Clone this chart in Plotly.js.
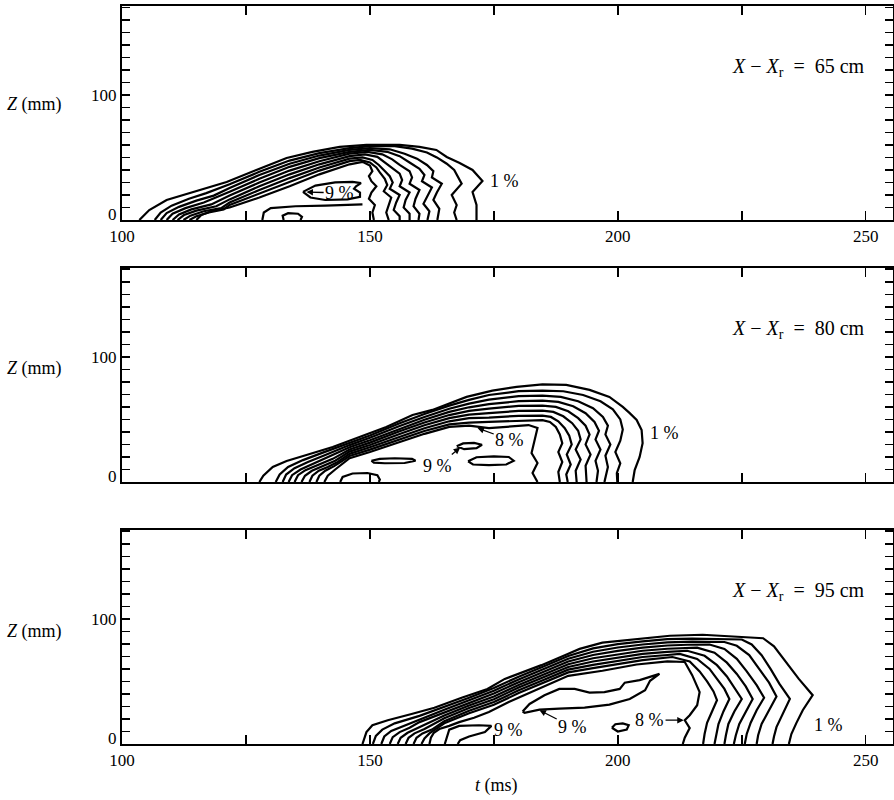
<!DOCTYPE html>
<html>
<head>
<meta charset="utf-8">
<script src="https://cdn.plot.ly/plotly-3.0.1.min.js"></script>
<style>html,body{margin:0;padding:0;background:#fff;}#chart{width:894px;height:800px;}</style>
</head>
<body>
<div id="chart"></div>
<script>
// ---------- Tick values / labels ----------
const tTicks = [100, 125, 150, 175, 200, 225, 250];
const tTickText = ['100', ' ', '150', ' ', '200', ' ', '250'];
const zTicks = [0,10,20,30,40,50,60,70,80,90,100,110,120,130,140,150,160,170];
const zTickText = [' ',' ',' ',' ',' ',' ',' ',' ',' ',' ','100',' ',' ',' ',' ',' ',' ',' '];
const zZeroLabel = '0';
const stationLabels = ['65', '80', '95'];

// ---------- Panel 1 : X - Xr = 65 cm (t in ms, Z in mm) ----------
const p65_a1_t = [103.5,105.5,109.0,113.6,121.1,127.1,133.2,138.4,143.9,149.3,156.0,160.0,163.4,165.5,168.1,170.7,172.7,170.7,171.5,171.5];
const p65_a1_z = [0,8,16,21.6,30.4,40,49.6,54.4,58.4,60,60,58.4,56,50.4,45.6,40,31.2,22.4,12,0];
const p65_a2_t = [106.6,107.8,110,113.5,117,121.7,127.7,133.8,139.8,145.9,150,155,158.5,161.5,163.5,165.5,167,167.5,168.5,166.5,167.5,167,167.5];
const p65_a2_z = [0,6,11.5,17,21.5,28.5,38.5,47.5,53.5,57.5,59,59,57,54,50,45,40,36,29,20,12,6,0];
const p65_a3_t = [107.8,109,111.5,115,118.5,121.7,127.7,133.8,139.8,145.9,150,154,157,159.5,161.5,162.8,162.5,164.5,163.5,162.8,164,163.6];
const p65_a3_z = [0,5.5,10.5,15.5,19.5,25.5,36,45,51.5,56,57.5,56.5,53,49,44,39,34,29,22,16,9,0];
const p65_a4_t = [109,110.2,112.8,116.5,121.7,127.7,133.8,139.8,145.9,150,153.5,156,158,160,161,160.5,162.5,161.5,160.8,162,161.6];
const p65_a4_z = [0,5,9.5,14,22.5,33,42.5,49.5,54.5,56,54.5,51,46,41,36,31,26,19,13,7,0];
const p65_a5_t = [110.2,111.5,114,118,121.7,127.7,133.8,139.8,145.9,149.5,152.5,154.5,156,158,158.5,158,160,159.2,158.8,160,159.8];
const p65_a5_z = [0,4.5,8.5,12.5,19.5,30,39.5,47,53,54.5,52.5,48.5,44,39,34,29,24,17,11,5,0];
const p65_a6_t = [111.2,112.5,115,119,121.7,127.7,133.8,139.8,145.9,149,151.5,153,154.5,156,156.5,156,158,157.2,156.8,158,158];
const p65_a6_z = [0,4,7.5,11,16.5,27,36.5,44.5,51,52.5,50.5,46,41.5,37,32,27,22,16,10,5,0];
const p65_a7_t = [112.4,113.8,116.5,120,121.7,127.7,133.8,139.8,145.9,148.5,150.5,151.8,152.8,154,154.6,154,156,155.3,154.8,156,156];
const p65_a7_z = [0,3.5,7,9.5,14,24,33.5,42,49,50,48,44,40,35,30,25,20,14,8,3,0];
const p65_a8_t = [113.6,115,117.5,120.5,121.7,127.7,133.8,139.8,145.9,148,150,151.3,152,153,153.5,152.8,154.3,153.8,153.3,153.8];
const p65_a8_z = [0,3,6,8.5,12,21,30.5,39.5,47,48,46,42,38,33,28,23,18,12,6,0];
const p65_a9_t = [115,116,118,121.7,127.7,133.8,139.8,145.9,148.5,150,150.5,149.8,150.3,151.3,150.3,149.8,151,150.5,150.8];
const p65_a9_z = [0,4,7,10,18,27,36.5,44.5,46.5,43.5,39,35,31,27,22,17,12,6,0];
const p65_loop9_t = [136.5,139,143,146.5,148.2,147.2,146.8,148,148,145.5,141,138,136.5];
const p65_loop9_z = [22.5,27.5,30,30.5,29.5,27,25,22,18.5,16.5,16,18,22.5];
const p65_low_t = [128.3,128.6,130,135,141,146,148.5];
const p65_low_z = [0,6,9.5,11,11.5,12,12.5];
const p65_bump_t = [132.6,132.4,133.5,135.5,136.3,136];
const p65_bump_z = [0,3.5,5.5,5,2.5,0];

// ---------- Panel 2 : X - Xr = 80 cm ----------
const p80_a1_t = [127.7,128.5,130.4,133.2,137.2,142.5,147.9,153.3,158.6,162.6,169.5,174.7,179.6,184.8,189.6,194.3,198.3,201,202.4,203.8,204.8,205,204.4,203.4,203];
const p80_a1_z = [0,5,12,16.8,21.6,28,36,44,53.6,57.6,68,73,76,78,77.6,73.6,68,60,55,49.6,41.6,31,20,9.6,0];
const p80_a2_t = [131,131.8,133.5,136.5,140.5,145.9,150,156,161,166,170,174,180,184.8,189,193,196.5,199,200.5,201,200.5,199.5,200.5,199.8,199.9];
const p80_a2_z = [0,6,12,17.5,23.5,31.3,37.1,46.9,54.3,61,65.6,69.5,72.6,73,72.5,69.5,64.5,58,50,42,33,24,15,7,0];
const p80_a3_t = [132.4,133.1,134.8,137.5,141,145.9,150,156,161,166,170,174,180,184.8,188.5,192,195,197,198,197.5,198.5,197.5,198,197.3];
const p80_a3_z = [0,6,11,16,21.5,29.5,35.3,44.8,52,58.5,62.6,65.8,68.6,69,68,64.5,59,52,45,38,30,21,12,0];
const p80_a4_t = [133.6,134.3,136,138.5,141.5,145.9,150,156,161,166,170,174,180,184.8,188,191,193.5,195.3,196.2,195.5,196.5,195.5,196,195.7];
const p80_a4_z = [0,5.5,10,14.5,19.5,27.8,33.4,42.6,49.8,56,59.7,62.2,64.6,65,64,60.5,55,48,41,34,26,17,9,0];
const p80_a5_t = [134.8,135.5,137,139.5,142.5,145.9,150,156,161,166,170,174,180,184.8,187.5,190,192,193.5,194.3,193.5,194.5,193.5,193.7];
const p80_a5_z = [0,5.5,9.5,13.5,18.5,26,31.5,40.5,47.5,53.5,56.8,58.6,60.8,61,60,56.5,51,45,38,30,22,13,0];
const p80_a6_t = [136.2,136.9,138.3,140.5,143,145.9,150,156,161,166,170,174,180,184.8,187,189,190.8,192,192.5,191.5,192.5,191.5,191.7];
const p80_a6_z = [0,5,9,12.5,17,24.3,29.6,38.4,45.3,51,53.9,55,56.8,57,56,52.5,47,41,34,26,18,9,0];
const p80_a7_t = [137.8,138.4,139.7,141.5,143.5,145.9,150,156,161,166,170,174,180,184.8,186.5,188,189.3,190.2,190.7,189.7,190.5,189.6,189.9];
const p80_a7_z = [0,5,9,12,16,22.5,27.8,36.3,43,48.5,51,51.5,52.9,53,52,48.5,43,37,30,22,14,6,0];
const p80_a8_t = [139.2,139.8,141,142.7,144.3,145.9,150,156,161,166,170,174,180,184.8,186.3,187.5,188.3,188.8,188,188.8,188,188.3];
const p80_a8_z = [0,5,9,12.5,16.5,20.8,25.9,34.1,40.8,46,47.5,48,49,49.5,48,44,38,31,24,16,8,0];
const p80_a9_t = [140.8,141.5,143,145.9,150,156,161,166,170,174,178.2,182,183.8,183.2,182.6,183.8,182.8,183.8];
const p80_a9_z = [0,5,10,19,24,32,38.5,44,45,43,44,45.5,43.2,33.6,23.2,15.2,7.2,0];
const p80_bump_t = [144,144.5,146.5,149.5,151.5,152,151.8];
const p80_bump_z = [0,4,6.8,7.2,5.5,2,0];
const p80_dash_t = [150.3,152,155,158.5,159.2,157,153,150.8,150.3];
const p80_dash_z = [17,18.5,19,18.5,17,15.2,15,15.5,17];
const p80_isl1_t = [167.5,168.8,171,172.6,171.5,169,167.5];
const p80_isl1_z = [28.5,30.8,31.2,29.8,27,26.2,28.5];
const p80_isl2_t = [169.8,171.5,175,178,179,177.5,174,170.8,169.8];
const p80_isl2_z = [16.5,19.8,20.5,20,17,14,13.5,14,16.5];

// ---------- Panel 3 : X - Xr = 95 cm ----------
const p95_a1_t = [148.5,149.3,150.5,153.6,158.4,163,168.5,173.7,177.2,180.6,184.6,189.9,192.3,196.9,203.8,210.5,217.1,224,229.3,231.5,234,236.5,239.3,237.3,236,235,234.5];
const p95_a1_z = [0,9.5,15,19,24,29,37,44,52,57,63,72,76,81,84,86.5,87.3,85.7,84.5,78,65,52,39,27,16.7,8,0];
const p95_a2_t = [150.6,151.2,152.5,155,160,165,170,175,180,185,190,195,200,205,210,215,220,225,227,229,230.8,232.6,234.7,233.2,232,231.5,231.2];
const p95_a2_z = [0,6.5,11.5,16.5,22.5,29.7,36.9,44.8,53.8,61.9,70.3,76.4,79.8,82,83.8,84.2,84,83.5,79.5,71,60,48,36,24,13.5,6,0];
const p95_a3_t = [152.3,152.9,154.3,156.5,160,165,170,175,180,185,190,195,200,205,210,215,221.5,224,226.5,228.5,230.5,232,230.5,229,228.3,228];
const p95_a3_z = [0,6,10.5,14,20,27.4,34.9,42.5,51.6,59.7,68.1,73.7,77.1,79.5,81.2,81.8,81.5,78.5,71,60,49,38,27,16,7,0];
const p95_a4_t = [154,154.6,156,158,160,165,170,175,180,185,190,195,200,205,210,214,218.5,221.5,224,226,228,229.5,228,226.8,226,225.6];
const p95_a4_z = [0,5.5,9.5,13,17.5,25.1,32.8,40.3,49.4,57.6,65.9,71.1,74.4,77,78.7,79.3,79.5,76,68,58,47,37,27,17,8,0];
const p95_a5_t = [155.6,156.2,157.6,160,165,170,175,180,185,190,195,200,205,210,216,219.5,222,224,225.8,227.2,225.8,224.5,223.8,223.4];
const p95_a5_z = [0,5,9,13.5,22.8,30.8,38,47.2,55.5,63.7,68.5,71.7,74.5,76.1,77,73,65,56,46,36,26,16,7,0];
const p95_a6_t = [157.2,157.8,159,161,165,170,175,180,185,190,195,200,205,210,214,217.5,220,222,223.5,225,223.5,222.3,221.8,221.5];
const p95_a6_z = [0,5,8.5,12,20.5,28.7,35.8,45.1,53.4,61.5,65.9,69.1,72,73.6,74.5,70.5,63,54,45,36,26,16,7,0];
const p95_a7_t = [158.8,159.4,160.6,162.5,165,170,175,180,185,190,195,200,205,210,212.5,216,218.5,220,221.5,222.5,221.3,220.3,219.8,219.5];
const p95_a7_z = [0,5,8.5,11.5,18.2,26.6,33.5,42.9,51.2,59.4,63.2,66.4,69.5,71.1,72,68,60,52,44,36,26,16,7,0];
const p95_a8_t = [160.4,161,162,163.5,165,170,175,180,185,190,195,200,205,211,214.5,216.5,218,219.3,220,219,218,217.5,217.2];
const p95_a8_z = [0,4.5,8.5,12.5,16.5,24.6,31.3,40.7,49.1,57.2,60.6,63.7,67,69.5,66,58,50,42,35,26,17,8,0];
const p95_a9_t = [162,162.3,162.9,164,166,168,171,174,178,182,186,190,196.9,203.8,210,213.5,215,216.5,216,214.5,213.5,214.5,213.5,213.1];
const p95_a9_z = [0,5,9,12,14.5,17.5,21,25.5,33.5,40.5,47.5,54.5,58.5,63.5,66,65.5,55,41.5,31,23,19,12.7,5,0];
const p95_loopA_t = [165.1,165.5,166,168,172,174.5,173.2,170,168.2,167.7];
const p95_loopA_z = [0,5,11.5,14.5,15,14.5,9.5,6,3,0];
const p95_regB_t = [180.8,182.2,185.2,188.2,191.3,194.3,197.3,200.4,201.4,204.4,208.4,206.5,205.5,202.4,198.3,193.3,188.2,184.2,181.2,180.8];
const p95_regB_z = [26,32,39,44,44,41,41.5,44,49,51,56,50.5,43,36,31.5,29,28.2,27.5,25,26];
const p95_dot_t = [198.8,199.5,201,202.2,201.8,200,198.8];
const p95_dot_z = [13,15.8,16.5,15,11.5,10,13];

// ---------- Build traces ----------
function contour(t, z, xa, ya) {
  return {type: 'scatter', mode: 'lines', x: t, y: z, xaxis: xa, yaxis: ya,
          line: {color: 'black', width: 2.2}, hoverinfo: 'skip', cliponaxis: true};
}
const panel1 = [[p65_a1_t,p65_a1_z],[p65_a2_t,p65_a2_z],[p65_a3_t,p65_a3_z],[p65_a4_t,p65_a4_z],[p65_a5_t,p65_a5_z],
  [p65_a6_t,p65_a6_z],[p65_a7_t,p65_a7_z],[p65_a8_t,p65_a8_z],[p65_a9_t,p65_a9_z],[p65_loop9_t,p65_loop9_z],
  [p65_low_t,p65_low_z],[p65_bump_t,p65_bump_z]];
const panel2 = [[p80_a1_t,p80_a1_z],[p80_a2_t,p80_a2_z],[p80_a3_t,p80_a3_z],[p80_a4_t,p80_a4_z],[p80_a5_t,p80_a5_z],
  [p80_a6_t,p80_a6_z],[p80_a7_t,p80_a7_z],[p80_a8_t,p80_a8_z],[p80_a9_t,p80_a9_z],[p80_bump_t,p80_bump_z],
  [p80_dash_t,p80_dash_z],[p80_isl1_t,p80_isl1_z],[p80_isl2_t,p80_isl2_z]];
const panel3 = [[p95_a1_t,p95_a1_z],[p95_a2_t,p95_a2_z],[p95_a3_t,p95_a3_z],[p95_a4_t,p95_a4_z],[p95_a5_t,p95_a5_z],
  [p95_a6_t,p95_a6_z],[p95_a7_t,p95_a7_z],[p95_a8_t,p95_a8_z],[p95_a9_t,p95_a9_z],[p95_loopA_t,p95_loopA_z],
  [p95_regB_t,p95_regB_z],[p95_dot_t,p95_dot_z]];
const traces = [];
panel1.forEach(p => traces.push(contour(p[0], p[1], 'x', 'y')));
panel2.forEach(p => traces.push(contour(p[0], p[1], 'x2', 'y2')));
panel3.forEach(p => traces.push(contour(p[0], p[1], 'x3', 'y3')));

// ---------- Axes ----------
const FONT = 'Liberation Serif';
function xAxis(anchor, labels) {
  return {anchor: anchor, domain: [0, 1], range: [100, 255.5], tickmode: 'array', tickvals: tTicks,
    ticktext: tTickText, showticklabels: labels, ticks: 'inside', ticklen: 9, tickwidth: 1.5, tickcolor: 'black',
    showline: true, linecolor: 'black', linewidth: 2, mirror: 'ticks', showgrid: false, zeroline: false,
    tickfont: {family: FONT, size: 17, color: 'black'}, fixedrange: true};
}
function yAxis(anchor, domain) {
  return {anchor: anchor, domain: domain, range: [0, 171], tickmode: 'array', tickvals: zTicks,
    ticktext: zTickText, ticks: 'inside', ticklen: 8, tickwidth: 1.5, tickcolor: 'black',
    showline: true, linecolor: 'black', linewidth: 2, mirror: 'ticks', showgrid: false, zeroline: false,
    tickfont: {family: FONT, size: 17, color: 'black'}, fixedrange: true};
}

// ---------- Annotations ----------
const ann = [];
const yrefs = ['y', 'y2', 'y3'];
const xrefs = ['x', 'x2', 'x3'];
const zLabelY = [92, 91, 89.5];
stationLabels.forEach((s, i) => {
  ann.push({xref: xrefs[i], yref: yrefs[i], x: 250.2, y: 121.5, xanchor: 'right', yanchor: 'middle',
    text: '<i>X</i> − <i>X</i><sub>r</sub>  =  ' + s + ' cm', showarrow: false, font: {family: FONT, size: 20, color: 'black'}});
  ann.push({xref: 'paper', yref: yrefs[i], x: -0.113, y: zLabelY[i], xanchor: 'center', yanchor: 'middle',
    text: '<i>Z</i> (mm)', showarrow: false, font: {family: FONT, size: 18, color: 'black'}});
  // the "0" of the Z axis sits slightly above the axis line, as in the original
  ann.push({xref: 'paper', yref: yrefs[i], x: -0.004, y: 4.5, xanchor: 'right', yanchor: 'middle',
    text: zZeroLabel, showarrow: false, font: {family: FONT, size: 17, color: 'black'}});
});
ann.push({xref: 'x3', yref: 'paper', x: 175.6, y: -0.056, xanchor: 'center', yanchor: 'middle',
  text: '<i>t</i> (ms)', showarrow: false, font: {family: FONT, size: 18, color: 'black'}});

function pct(xr, yr, txt, x, y, ax, ay) {
  const a = {xref: xr, yref: yr, text: txt, font: {family: FONT, size: 18, color: 'black'}};
  if (ax === undefined) { a.x = x; a.y = y; a.showarrow = false; }
  else { a.x = x; a.y = y; a.ax = ax; a.ay = ay; a.axref = xr; a.ayref = yr; a.showarrow = true;
    a.arrowhead = 2; a.arrowsize = 1; a.arrowwidth = 1.3; a.arrowcolor = 'black'; a.standoff = 0; a.startstandoff = 0; }
  return a;
}
ann.push(pct('x','y','9 %',137.2,22.4,143.9,21.6));
ann.push(pct('x','y','1 %',177.1,31.2));
ann.push(pct('x2','y2','8 %',171.7,43.2,178.2,33.6));
ann.push(pct('x2','y2','9 %',168.2,27.5,163.7,12.8));
ann.push(pct('x2','y2','1 %',209.4,39));
ann.push(pct('x3','y3','9 %',178,11));
ann.push(pct('x3','y3','9 %',184.2,27,190.9,13.5));
ann.push(pct('x3','y3','8 %',213.3,19,206.4,19));
ann.push(pct('x3','y3','1 %',242.4,15));

const layout = {
  width: 894, height: 800,
  margin: {l: 122, r: 1, t: 6, b: 56},
  paper_bgcolor: 'white', plot_bgcolor: 'white', showlegend: false,
  font: {family: FONT, size: 17, color: 'black'},
  xaxis: xAxis('y', true), yaxis: yAxis('x', [0.710, 1]),
  xaxis2: xAxis('y2', false), yaxis2: yAxis('x2', [0.355, 0.645]),
  xaxis3: xAxis('y3', true), yaxis3: yAxis('x3', [0, 0.29]),
  annotations: ann
};
Plotly.newPlot('chart', traces, layout, {staticPlot: true, displayModeBar: false});
</script>
</body>
</html>
